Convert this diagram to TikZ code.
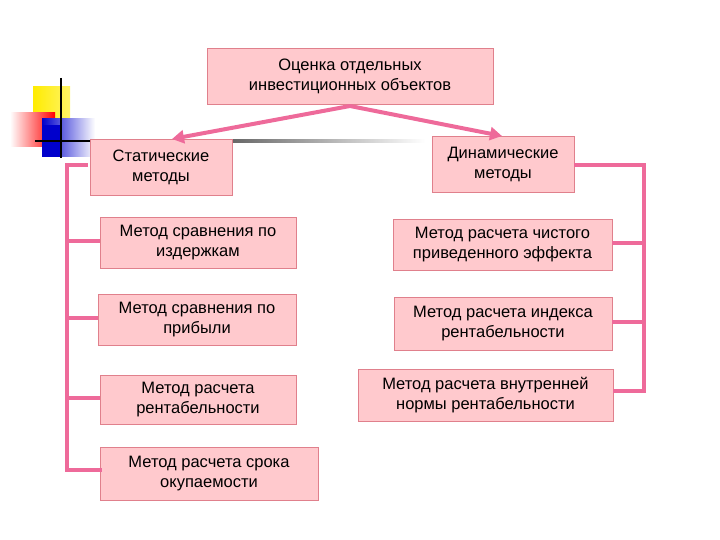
\documentclass[tikz,border=0pt]{standalone}
\usepackage{fontspec}
\usetikzlibrary{arrows.meta}
\setmainfont{Liberation Sans}
\definecolor{pk}{HTML}{EE6A9A}
\definecolor{bf}{HTML}{FFC9CD}
\definecolor{bd}{HTML}{E0808C}
\begin{document}
\begin{tikzpicture}[x=1pt,y=-1pt,
 box/.style={draw=bd,fill=bf,line width=0.9pt,align=center,font=\fontsize{16.5}{20}\selectfont,inner sep=0pt},
 conn/.style={draw=pk,line width=4pt},
 arr/.style={draw=pk,line width=4pt,-{Triangle[length=12pt,width=13pt]}}]
\useasboundingbox (0,0) rectangle (720,540);
% decoration
\shade[left color=yellow!85!orange, right color=yellow!85!orange!60] (33,87) rectangle (70,125);
\shade[left color=white, right color=red] (10,113) rectangle (55,147);
\shade[left color=blue!80!black, right color=white] (42,119) rectangle (95,157);
\fill[blue!80!black] (42,125) rectangle (62,157);
\draw[line width=2pt] (61,78) -- (61,158);
\draw[line width=2pt] (35,141) -- (90,141);
\shade[left color=gray!80!black,right color=white] (230,140) rectangle (425,142.5);
% nodes
\node[box,minimum width=286pt,minimum height=56pt] (top) at (350,76) {Оценка отдельных\\инвестиционных объектов};
\node[box,minimum width=142pt,minimum height=56pt] (st) at (161,167) {Статические\\методы};
\node[box,minimum width=142pt,minimum height=56pt] (dy) at (503,164) {Динамические\\методы};
\node[box,minimum width=196pt,minimum height=51pt] (l1) at (198,242.5) {Метод сравнения по\\издержкам};
\node[box,minimum width=198pt,minimum height=51pt] (l2) at (197,319.5) {Метод сравнения по\\прибыли};
\node[box,minimum width=196pt,minimum height=49pt] (l3) at (198,399.5) {Метод расчета\\рентабельности};
\node[box,minimum width=218pt,minimum height=53pt] (l4) at (209,473.5) {Метод расчета срока\\окупаемости};
\node[box,minimum width=219pt,minimum height=51pt] (r1) at (502.5,244.5) {Метод расчета чистого\\приведенного эффекта};
\node[box,minimum width=218pt,minimum height=53pt] (r2) at (503,323.5) {Метод расчета индекса\\рентабельности};
\node[box,minimum width=255pt,minimum height=52pt] (r3) at (485.5,395) {Метод расчета внутренней\\нормы рентабельности};
\coordinate (tb) at (350,106);
\draw[arr] (tb) -- (172,139);
\draw[arr] (tb) -- (502,136);
% left bracket
\coordinate (lt) at (86,165);
\coordinate (lb) at (67,470);
\draw[conn,line cap=rect] (lt) -- (67,165) -- (lb) -- (l4.west|-lb);
\draw[conn] (67,241) -- (l1.west|-0,241);
\draw[conn] (67,318) -- (l2.west|-0,318);
\draw[conn] (67,398) -- (l3.west|-0,398);
% right bracket
\draw[conn,line cap=butt] (dy.east|-0,165) -- (644,165) -- (644,391) -- (r3.east|-0,391);
\draw[conn] (644,243) -- (r1.east|-0,243);
\draw[conn] (644,322) -- (r2.east|-0,322);
\end{tikzpicture}
\end{document}
